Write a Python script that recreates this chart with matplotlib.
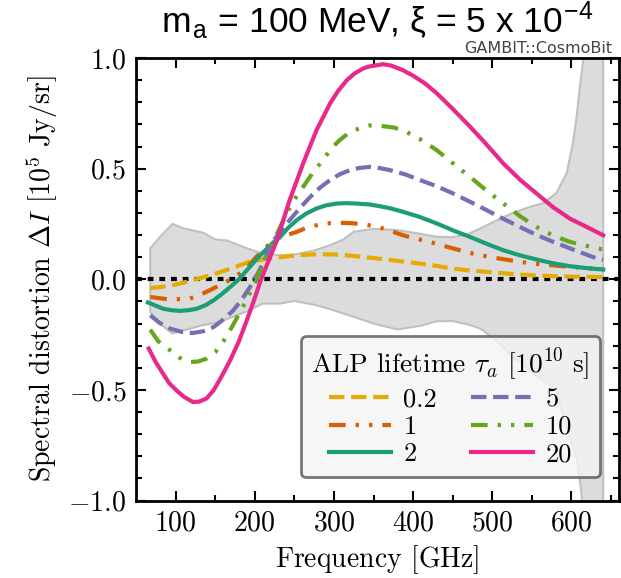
import matplotlib
matplotlib.use("Agg")
import matplotlib.pyplot as plt

plt.rcParams["font.family"] = "serif"
plt.rcParams["font.serif"] = ["cmr10"]
plt.rcParams["mathtext.fontset"] = "cm"
plt.rcParams["axes.formatter.use_mathtext"] = True

# noise band (upper / lower edge)
band_freq = [68, 80, 96, 110, 135, 150, 165, 190, 210, 232, 250, 275, 295, 312, 325, 350,
             380, 410, 430, 450, 470, 485, 505, 526, 550, 565, 581, 594, 602, 606, 610, 615, 625, 640]
band_hi = [0.14, 0.19, 0.25, 0.23, 0.21, 0.18, 0.175, 0.14, 0.116, 0.108, 0.112, 0.13, 0.154, 0.18,
           0.215, 0.228, 0.222, 0.205, 0.192, 0.19, 0.205, 0.23, 0.265, 0.30, 0.33, 0.345, 0.39, 0.48,
           0.62, 0.72, 0.85, 1.0, 1.6, 3.0]
band_lo = [-0.148, -0.2, -0.245, -0.231, -0.207, -0.198, -0.18, -0.145, -0.110, -0.110, -0.098, -0.115,
           -0.135, -0.155, -0.17, -0.20, -0.227, -0.21, -0.19, -0.189, -0.205, -0.223, -0.276, -0.35,
           -0.42, -0.46, -0.50, -0.67, -0.76, -0.80, -0.89, -1.05, -1.6, -3.0]

tau_labels = ["0.2", "1", "2", "5", "10", "20"]

f_02 = [68, 93, 110, 126, 138, 150, 163, 175, 190, 205, 220, 237, 253, 270, 286, 300, 316, 335, 354,
        380, 408, 430, 450, 471, 493, 514, 535, 556, 577, 600, 640]
dI_02 = [-0.04, -0.03, -0.015, 0.0, 0.012, 0.025, 0.04, 0.055, 0.075, 0.086, 0.094, 0.102, 0.108,
         0.112, 0.113, 0.112, 0.108, 0.102, 0.094, 0.083, 0.071, 0.06, 0.048, 0.04, 0.033, 0.027,
         0.021, 0.017, 0.014, 0.012, 0.01]

f_1 = [68, 93, 118, 130, 143, 164, 181, 192, 202, 220, 232, 253, 265, 278, 290, 303, 320, 337, 358,
       372, 387, 404, 421, 436, 451, 467, 484, 503, 522, 541, 560, 579, 598, 620, 640]
dI_1 = [-0.080, -0.092, -0.087, -0.072, -0.050, -0.012, 0.026, 0.06, 0.101, 0.165, 0.19, 0.214,
        0.232, 0.244, 0.252, 0.255, 0.254, 0.249, 0.234, 0.218, 0.199, 0.183, 0.169, 0.153, 0.139,
        0.123, 0.109, 0.097, 0.086, 0.076, 0.068, 0.062, 0.056, 0.05, 0.045]

f_2 = [65, 84, 95, 105, 116, 127, 138, 148, 158, 169, 180, 190, 206, 223, 232, 242, 253, 265, 278,
       290, 303, 316, 329, 345, 358, 372, 387, 408, 430, 451, 472, 493, 514, 535, 556, 577, 598, 620,
       640]
dI_2 = [-0.105, -0.133, -0.14, -0.143, -0.14, -0.133, -0.117, -0.095, -0.068, -0.035, 0.0, 0.041,
        0.105, 0.165, 0.191, 0.232, 0.267, 0.297, 0.320, 0.334, 0.342, 0.344, 0.342, 0.338, 0.330,
        0.32, 0.305, 0.282, 0.252, 0.22, 0.191, 0.16, 0.131, 0.108, 0.089, 0.072, 0.059, 0.05, 0.044]

f_5 = [68, 80, 93, 108, 122, 135, 148, 160, 173, 184, 194, 206, 215, 223, 233, 244, 257, 270, 282,
       295, 307, 320, 332, 345, 354, 371, 390, 409, 430, 451, 472, 493, 514, 535, 556, 577, 605, 632,
       640]
dI_5 = [-0.163, -0.198, -0.223, -0.238, -0.243, -0.235, -0.216, -0.183, -0.140, -0.09, -0.035,
        0.041, 0.11, 0.17, 0.222, 0.267, 0.322, 0.372, 0.413, 0.448, 0.474, 0.493, 0.503, 0.508,
        0.505, 0.493, 0.474, 0.448, 0.42, 0.387, 0.35, 0.312, 0.273, 0.236, 0.2, 0.169, 0.13,
        0.094, 0.088]

f_10 = [68, 78, 93, 105, 118, 128, 139, 150, 160, 172, 185, 202, 212, 223, 230, 240, 250, 261, 273,
        286, 296, 307, 320, 337, 345, 354, 362, 375, 387, 408, 430, 450, 472, 493, 514, 535, 556, 577,
        598, 620, 640]
dI_10 = [-0.228, -0.28, -0.321, -0.355, -0.374, -0.372, -0.359, -0.33, -0.283, -0.21, -0.125,
         -0.005, 0.085, 0.17, 0.22, 0.297, 0.36, 0.417, 0.48, 0.538, 0.588, 0.628, 0.665, 0.689,
         0.695, 0.696, 0.692, 0.686, 0.674, 0.635, 0.583, 0.525, 0.462, 0.40, 0.342, 0.285, 0.236,
         0.197, 0.169, 0.15, 0.134]

f_20 = [66, 75, 84, 92, 101, 110, 122, 130, 139, 148, 158, 169, 180, 190, 199, 208, 228, 244, 261,
        278, 295, 305, 316, 326, 337, 345, 354, 362, 372, 387, 400, 415, 430, 450, 472, 490, 514, 535,
        556, 577, 598, 620, 640]
dI_20 = [-0.313, -0.375, -0.426, -0.47, -0.502, -0.53, -0.555, -0.553, -0.539, -0.502, -0.44, -0.366,
         -0.28, -0.185, -0.095, 0.0, 0.176, 0.357, 0.523, 0.674, 0.794, 0.85, 0.899, 0.93, 0.953,
         0.962, 0.967, 0.972, 0.966, 0.945, 0.92, 0.885, 0.840, 0.77, 0.689, 0.62, 0.523, 0.45, 0.387,
         0.325, 0.274, 0.235, 0.199]

curves = [(f_02, dI_02), (f_1, dI_1), (f_2, dI_2), (f_5, dI_5), (f_10, dI_10), (f_20, dI_20)]
colors = ["#E6AB02", "#D95F02", "#1B9E77", "#7570B3", "#66A61E", "#E7298A"]
dash_dd = (0, (4, 2.4, 0.8, 2.4, 0.8, 2.4))
styles = ["--", dash_dd, "-", "--", dash_dd, "-"]

fig = plt.figure(figsize=(6.21, 5.78), dpi=100)
ax = fig.add_axes([136 / 621, 1 - 500.5 / 578, (619 - 136) / 621, (500.5 - 58) / 578])

ax.fill_between(band_freq, band_lo, band_hi, facecolor="#dcdcdc", edgecolor="#c0c0c0", lw=1.5, zorder=1)
ax.axhline(0, color="black", lw=3, ls=(0, (1.4, 1.4)), zorder=2)

for (f, dI), c, ls, lab in zip(curves, colors, styles, tau_labels):
    ax.plot(f, dI, color=c, ls=ls, lw=3, label=lab, zorder=3)

ax.set_xlim(50, 660)
ax.set_ylim(-1.0, 1.0)
ax.set_xticks([100, 200, 300, 400, 500, 600])
ax.set_xticks(range(150, 700, 100), minor=True)
ax.set_yticks([-1.0, -0.5, 0.0, 0.5, 1.0])
ax.set_yticks([v / 10 for v in range(-10, 11)], minor=True)
ax.tick_params(which="both", direction="in", top=True, right=True, labelsize=20, width=1.5)
ax.tick_params(which="major", length=7, pad=7)
ax.tick_params(which="minor", length=4)
for s in ax.spines.values():
    s.set_linewidth(2)

ax.set_xlabel(r"Frequency $[\mathrm{GHz}]$", fontsize=20, labelpad=5)
ax.set_ylabel(r"Spectral distortion $\Delta I$ $[10^5\ \mathrm{Jy/sr}]$", fontsize=20, labelpad=6)

ax.set_title(r"m$_\mathregular{a}$ = 100 MeV, ξ = 5 x 10$^\mathregular{-4}$",
             fontsize=25.5, family="Liberation Sans", pad=18.5)
ax.text(0.985, 1.004, "GAMBIT::CosmoBit", transform=ax.transAxes, ha="right", va="bottom",
        fontsize=11.5, family="DejaVu Sans", color="#444444")

leg = ax.legend(title=r"ALP lifetime $\tau_a$ $[10^{10}\ \mathrm{s}]$", ncol=2, loc="lower right",
                bbox_to_anchor=(0.961, 0.053), borderaxespad=0, fontsize=19, title_fontsize=19.7,
                handlelength=2.35, labelspacing=0.15, columnspacing=1.3, handletextpad=0.45,
                borderpad=0.4, fancybox=True, framealpha=0.8, facecolor="#f4f4f4",
                edgecolor="#555555")
leg.get_frame().set_linewidth(2)

fig.savefig("out.png", dpi=100)
